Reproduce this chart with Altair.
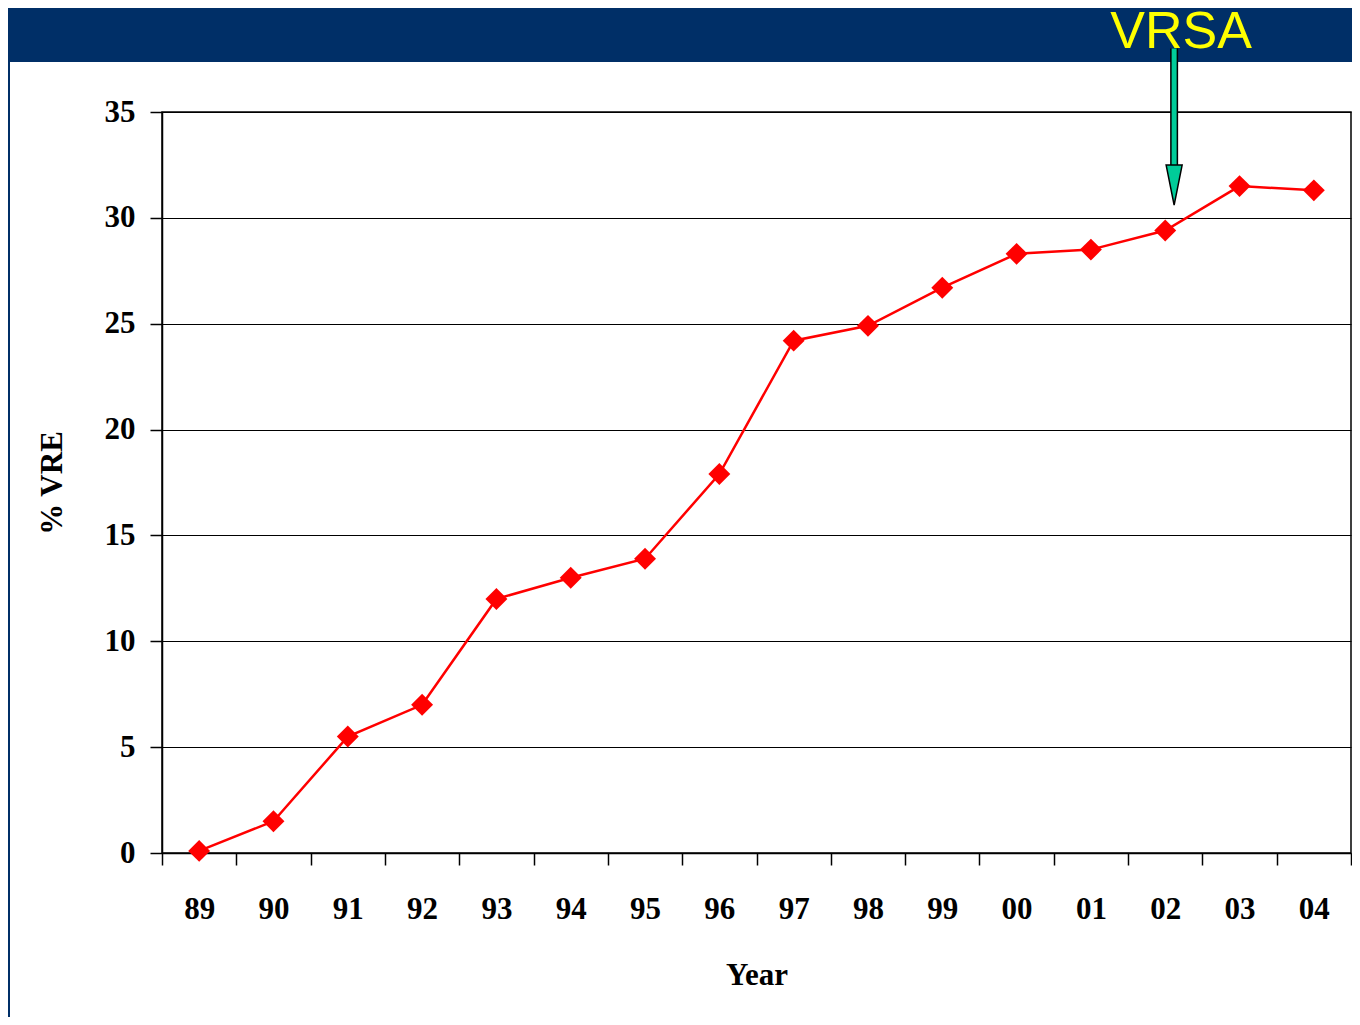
import altair as alt
import pandas as pd

years = ["89", "90", "91", "92", "93", "94", "95", "96", "97", "98", "99", "00", "01", "02", "03", "04"]
vre = [0.1, 1.5, 5.5, 7.0, 12.0, 13.0, 13.9, 17.9, 24.2, 24.9, 26.7, 28.3, 28.5, 29.4, 31.5, 31.3]
y_ticks = [0, 5, 10, 15, 20, 25, 30, 35]

# annotation (data units)
arrow_year = ["02"]
arrow_tip_center = [31.55]
arrow_top = [38.0]
arrow_label = ["VRSA"]

NAVY = "#002F67"
SERIF = "Liberation Serif"

df = pd.DataFrame({"year": years, "y": vre})
ann = pd.DataFrame({"year": arrow_year, "y": arrow_tip_center, "y2": arrow_top, "label": arrow_label})
one = pd.DataFrame({"a": [0]})

xenc = alt.X(
    "year:O",
    sort=years,
    bandPosition=0.5,
    scale=alt.Scale(type="band", paddingInner=0, paddingOuter=0),
    axis=alt.Axis(
        title="Year",
        tickBand="extent",
        grid=False,
        ticks=True,
        tickSize=12,
        tickColor="black",
        tickWidth=1.5,
        domainColor="black",
        domainWidth=1.5,
        labelAngle=0,
        labelFont=SERIF,
        labelFontSize=31,
        labelFontWeight="bold",
        labelColor="black",
        labelPadding=29,
        titleFont=SERIF,
        titleFontSize=31,
        titleFontWeight="bold",
        titleColor="black",
        titlePadding=36,
    ),
)

yenc = alt.Y(
    "y:Q",
    scale=alt.Scale(domain=[0, 35], nice=False, zero=True),
    axis=alt.Axis(
        title="% VRE",
        values=y_ticks,
        grid=True,
        gridColor="black",
        gridWidth=1,
        gridOpacity=1,
        tickSize=12,
        tickColor="black",
        tickWidth=1.5,
        domainColor="black",
        domainWidth=1.5,
        labelFont=SERIF,
        labelFontSize=31,
        labelFontWeight="bold",
        labelColor="black",
        labelPadding=15,
        titleFont=SERIF,
        titleFontSize=31,
        titleFontWeight="bold",
        titleColor="black",
        titlePadding=36,
    ),
)

band_top = alt.Chart(one).mark_rect(color=NAVY).encode(
    x=alt.value(-154), x2=alt.value(1200), y=alt.value(-104), y2=alt.value(-50)
)
band_left = alt.Chart(one).mark_rect(color=NAVY).encode(
    x=alt.value(-154), x2=alt.value(-152), y=alt.value(-104), y2=alt.value(905)
)

line = alt.Chart(df).mark_line(color="#FF0000", strokeWidth=2.5).encode(x=xenc, y=yenc)
pts = alt.Chart(df).mark_point(shape="diamond", filled=True, color="#FF0000", size=480, opacity=1).encode(
    x=alt.X("year:O", sort=years, bandPosition=0.5), y=alt.Y("y:Q")
)

AX = alt.X("year:O", sort=years, bandPosition=0.62)

shaft_outline = alt.Chart(ann).mark_rule(color="black", strokeWidth=8, clip=False).encode(
    x=AX, y=alt.Y("y:Q"), y2="y2:Q"
)
shaft = alt.Chart(ann).mark_rule(color="#00CC99", strokeWidth=5, clip=False).encode(
    x=AX, y=alt.Y("y:Q"), y2="y2:Q"
)
head = alt.Chart(ann).mark_point(
    shape="M -0.4 -1 L 0.4 -1 L 0 1 Z", filled=True, fill="#00CC99", stroke="black",
    strokeWidth=1.5, size=1600, opacity=1, clip=False
).encode(x=AX, y=alt.Y("y:Q"))
label = alt.Chart(ann).mark_text(
    font="Liberation Sans", fontSize=52, color="#FFFF00", baseline="alphabetic", align="center", dx=7, clip=False
).encode(x=AX, y=alt.Y("y2:Q"), text="label:N")

chart = alt.layer(band_top, band_left, line, pts, label, shaft_outline, shaft, head).properties(
    width=1189,
    height=741,
    autosize=alt.AutoSizeParams(type="none"),
    padding={"left": 154, "top": 104, "right": 1, "bottom": 164},
    background="white",
).configure_view(stroke="black", strokeWidth=1.5)

chart.save("out.html", embed_options={"renderer": "svg", "actions": False})
